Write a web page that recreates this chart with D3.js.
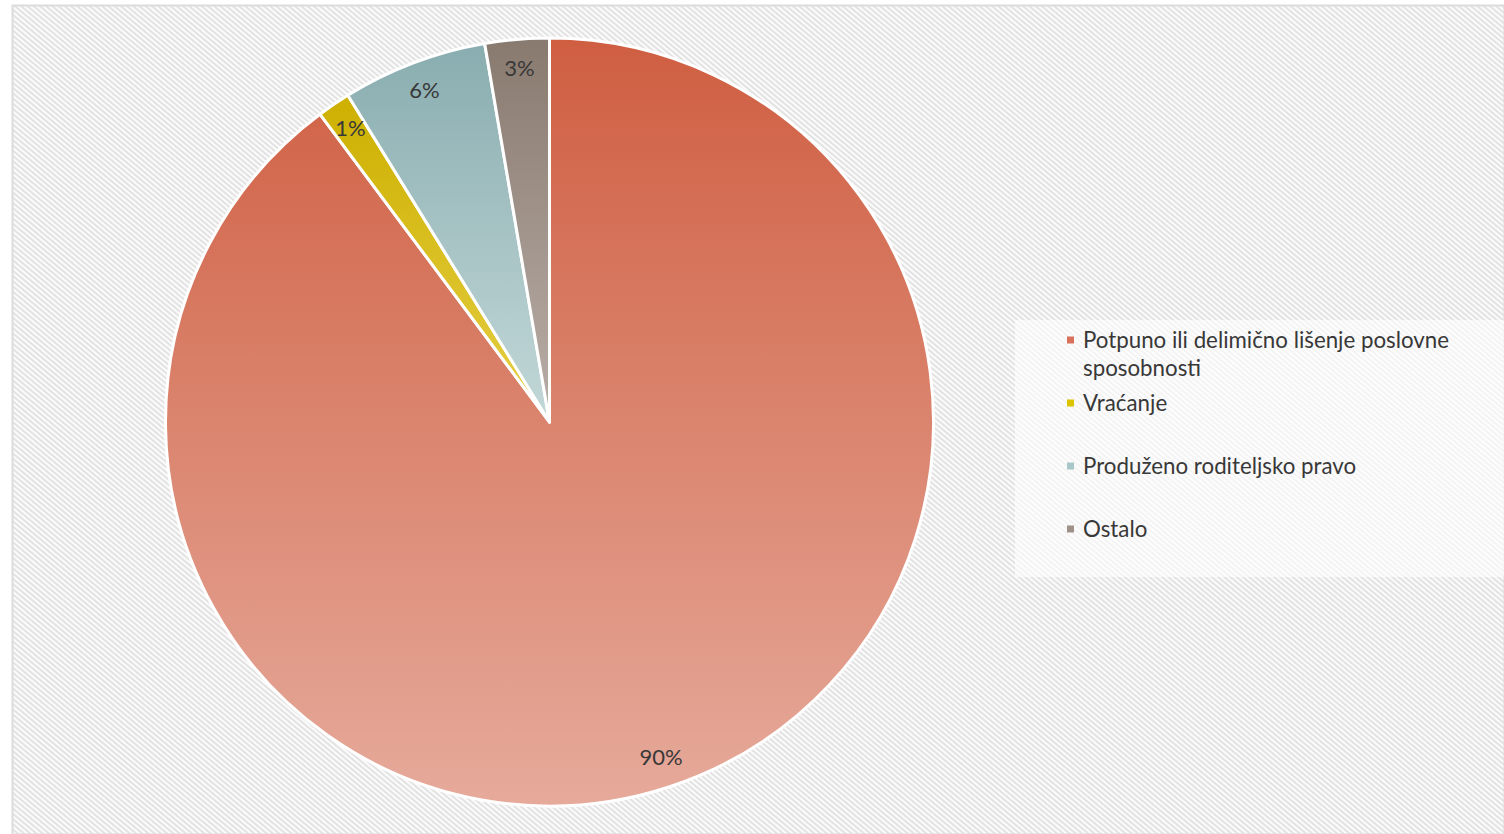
<!DOCTYPE html>
<html>
<head>
<meta charset="utf-8">
<script src="https://cdn.jsdelivr.net/npm/d3@7"></script>
<style>
  html, body { margin: 0; padding: 0; background: #fff; }
  svg { display: block; font-family: Lato, "Open Sans", sans-serif; }
</style>
</head>
<body>
<div id="chart"></div>
<script>
// Data
var categories = [
  'Potpuno ili delimično lišenje poslovne sposobnosti',
  'Vraćanje',
  'Produženo roditeljsko pravo',
  'Ostalo'
];
var values = [89.8, 1.4, 6.1, 2.7];
var valueLabels = ['90%', '1%', '6%', '3%'];
var legendLines = [
  ['Potpuno ili delimično lišenje poslovne', 'sposobnosti'],
  ['Vraćanje'],
  ['Produženo roditeljsko pravo'],
  ['Ostalo']
];
var colorsTop = ['#cf5e41', '#cdb000', '#89adb0', '#897a6f'];
var colorsBottom = ['#e6aa9b', '#e6cf45', '#c3d8d8', '#b9aea8'];
var legendColors = ['#d9705a', '#dcc400', '#a9c6c8', '#a09188'];

var width = 1504, height = 834;
var cx = 549.5, cy = 422, radius = 384;

var svg = d3.select('#chart').append('svg')
    .attr('width', width)
    .attr('height', height);

var defs = svg.append('defs');

// Striped background
var pattern = defs.append('pattern')
    .attr('id', 'stripes')
    .attr('patternUnits', 'userSpaceOnUse')
    .attr('width', 4)
    .attr('height', 4)
    .attr('patternTransform', 'rotate(-50)');
pattern.append('rect')
    .attr('width', 4).attr('height', 4).attr('fill', '#fbfbfb');
pattern.append('rect')
    .attr('width', 1.8).attr('height', 4).attr('fill', '#e0e0e0');

svg.append('rect')
    .attr('x', 12.5).attr('y', 5.5)
    .attr('width', width - 12).attr('height', height - 5)
    .attr('fill', 'url(#stripes)')
    .attr('stroke', '#dcdcdc')
    .attr('stroke-width', 2);

// Gradients, one per slice
categories.forEach(function(c, i) {
    var g = defs.append('linearGradient')
        .attr('id', 'grad' + i)
        .attr('x1', 0).attr('y1', 0)
        .attr('x2', 0).attr('y2', 1);
    g.append('stop').attr('offset', '0%').attr('stop-color', colorsTop[i]);
    g.append('stop').attr('offset', '100%').attr('stop-color', colorsBottom[i]);
});

var pie = d3.pie().sort(null).value(function(d) { return d; });
var arcs = pie(values);

var arc = d3.arc().innerRadius(0).outerRadius(radius);
var labelArc = d3.arc().innerRadius(radius * 0.922).outerRadius(radius * 0.922);

var pieG = svg.append('g')
    .attr('transform', 'translate(' + cx + ',' + cy + ')');

pieG.selectAll('path')
    .data(arcs)
    .enter()
    .append('path')
    .attr('d', arc)
    .attr('fill', function(d, i) { return 'url(#grad' + i + ')'; })
    .attr('stroke', '#ffffff')
    .attr('stroke-width', 3)
    .attr('stroke-linejoin', 'round');

pieG.selectAll('text')
    .data(arcs)
    .enter()
    .append('text')
    .attr('transform', function(d) {
        var p = labelArc.centroid(d);
        return 'translate(' + p[0] + ',' + p[1] + ')';
    })
    .attr('text-anchor', 'middle')
    .attr('dy', '0.33em')
    .attr('fill', '#383838')
    .attr('font-size', 22)
    .text(function(d, i) { return valueLabels[i]; });

// Legend
var legend = svg.append('g');
legend.append('rect')
    .attr('x', 1015).attr('y', 320)
    .attr('width', 489).attr('height', 257)
    .attr('fill', '#ffffff')
    .attr('fill-opacity', 0.6);

var rowY = d3.scalePoint().domain(d3.range(categories.length)).range([340, 529]);

var items = legend.selectAll('g.item')
    .data(categories)
    .enter()
    .append('g')
    .attr('class', 'item')
    .attr('transform', function(d, i) { return 'translate(1067,' + rowY(i) + ')'; });

items.append('rect')
    .attr('x', 0).attr('y', -3.5)
    .attr('width', 7).attr('height', 7)
    .attr('fill', function(d, i) { return legendColors[i]; });

items.append('text')
    .attr('x', 16)
    .attr('fill', '#383838')
    .attr('font-size', 22.3)
    .each(function(d, i) {
        var t = d3.select(this);
        legendLines[i].forEach(function(line, j) {
            t.append('tspan')
                .attr('x', 16)
                .attr('y', 7.5 + j * 28)
                .text(line);
        });
    });
</script>
</body>
</html>
